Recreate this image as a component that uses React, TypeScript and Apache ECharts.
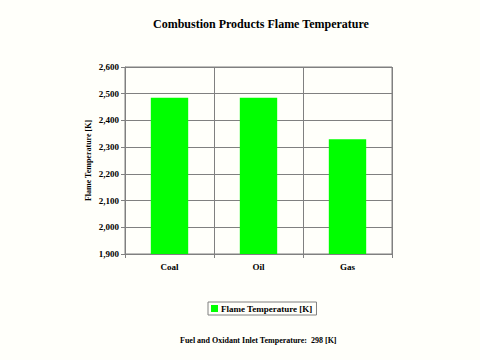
import React, { useEffect, useRef } from "react";
import * as echarts from "echarts";

const categories = ["Coal", "Oil", "Gas"];
const flameTemp = [2485, 2485, 2330];
const seriesName = "Flame Temperature [K]";
const titleText = "Combustion Products Flame Temperature";
const footerText = "Fuel and Oxidant Inlet Temperature:  298 [K]";

const FONT = "'Liberation Serif', 'Times New Roman', serif";

export default function App() {
  const ref = useRef<HTMLDivElement>(null);
  useEffect(() => {
    document.body.style.margin = "0";
    if (!ref.current) return;
    const chart = echarts.init(ref.current, undefined, { renderer: "svg" });
    chart.setOption({
      animation: false,
      backgroundColor: "#fffffa",
      textStyle: { fontFamily: FONT },
      title: {
        text: titleText,
        left: 148,
        top: 13,
        textStyle: { fontFamily: FONT, fontSize: 12, fontWeight: "bold", color: "#000" },
      },
      legend: {
        data: [seriesName],
        left: 208,
        top: 302,
        icon: "rect",
        itemWidth: 7,
        itemHeight: 7,
        itemGap: 3,
        padding: [2, 4, 2, 3],
        borderColor: "#808080",
        borderWidth: 1,
        textStyle: { fontFamily: FONT, fontSize: 9, fontWeight: "bold", color: "#000", padding: [0, 0, 0, -2] },
      },
      grid: { left: 125, right: 88, top: 67, bottom: 106, show: true, borderColor: "#808080", borderWidth: 1 },
      xAxis: {
        type: "category",
        data: categories,
        axisLine: { lineStyle: { color: "#808080" } },
        axisTick: { show: true, length: 4, lineStyle: { color: "#808080" } },
        splitLine: { show: true, lineStyle: { color: "#808080", width: 1 } },
        axisLabel: { fontFamily: FONT, fontSize: 9, fontWeight: "bold", color: "#000", margin: 8 },
      },
      yAxis: {
        type: "value",
        min: 1900,
        max: 2600,
        interval: 100,
        name: seriesName,
        nameLocation: "middle",
        nameGap: 33,
        nameMoveOverlap: false,
        nameTextStyle: { fontFamily: FONT, fontSize: 8, fontWeight: "bold", color: "#000" },
        axisLine: { show: true, lineStyle: { color: "#808080" } },
        axisTick: { show: true, length: 4, lineStyle: { color: "#808080" } },
        splitLine: { show: true, lineStyle: { color: "#808080", width: 1 } },
        axisLabel: {
          fontFamily: FONT,
          fontSize: 9,
          fontWeight: "bold",
          color: "#000",
          margin: 6,
          formatter: (v: number) => v.toLocaleString("en-US"),
        },
      },
      series: [
        {
          name: seriesName,
          type: "bar",
          data: flameTemp,
          barWidth: "42%",
          itemStyle: { color: "#00ff00" },
        },
      ],
      graphic: [
        {
          type: "text",
          left: 180,
          top: 336,
          style: { text: footerText, font: `bold 8px ${FONT}`, fill: "#000" },
        },
      ],
    });
    return () => chart.dispose();
  }, []);
  return <div ref={ref} style={{ width: 480, height: 360 }} />;
}
